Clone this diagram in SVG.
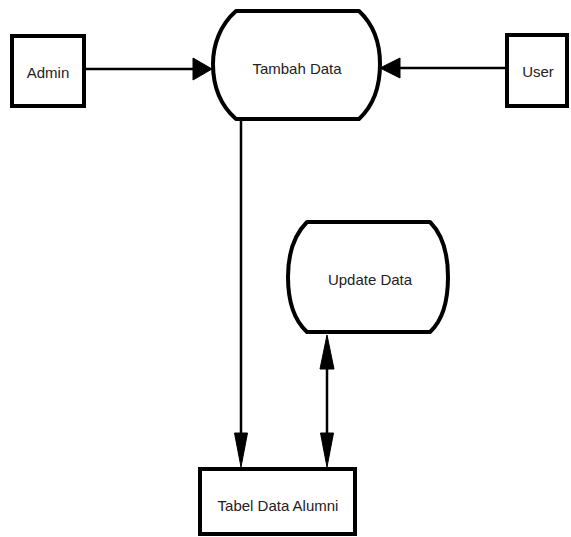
<svg xmlns="http://www.w3.org/2000/svg" width="571" height="537" viewBox="0 0 571 537">
<style>
.box{fill:#fff;stroke:#000;stroke-width:4}
.proc{fill:#fff;stroke:#000;stroke-width:4;stroke-linejoin:round}
.ln{fill:none;stroke:#000;stroke-width:2.5}
.ah{fill:#000;stroke:#000;stroke-width:1}
text{font-family:"Liberation Sans",Arial,sans-serif;font-size:15px;fill:#222;text-anchor:middle;dominant-baseline:central}
</style>
<rect width="571" height="537" fill="#fff"/>
<g id="connectors">
<line class="ln" x1="86" y1="69" x2="196" y2="69"/>
<polygon class="ah" points="212,69 193,58 193,80"/>
<line class="ln" x1="505" y1="68" x2="398" y2="68"/>
<polygon class="ah" points="380,68 400,58 400,78"/>
<line class="ln" x1="241" y1="120" x2="241" y2="440"/>
<polygon class="ah" points="241,467 234.5,433 247.5,433"/>
<line class="ln" x1="327" y1="365" x2="327" y2="440"/>
<polygon class="ah" points="327,335 320,369 334,369"/>
<polygon class="ah" points="327,467 320.5,433 333.5,433"/>
</g>
<g id="admin">
<rect class="box" x="12" y="36" width="72" height="70"/>
<text x="48" y="72">Admin</text>
</g>
<g id="user">
<rect class="box" x="507" y="35" width="60" height="71"/>
<text x="538" y="71">User</text>
</g>
<g id="tambah">
<path class="proc" d="M236,11 L359,11 C374,25 380,45 380,64 C380,85 374,105 359,119 L236,119 C220,105 213,85 213,64 C213,45 220,25 236,11 Z"/>
<text x="297" y="68">Tambah Data</text>
</g>
<g id="update">
<path class="proc" d="M307,222 L430,222 C443,235 448,255 448,277 C448,300 443,320 430,332 L307,332 C294,320 288,300 288,277 C288,255 294,235 307,222 Z"/>
<text x="370" y="279">Update Data</text>
</g>
<g id="tabel">
<rect class="box" x="200" y="469" width="155" height="65"/>
<text x="278" y="505">Tabel Data Alumni</text>
</g>
</svg>
